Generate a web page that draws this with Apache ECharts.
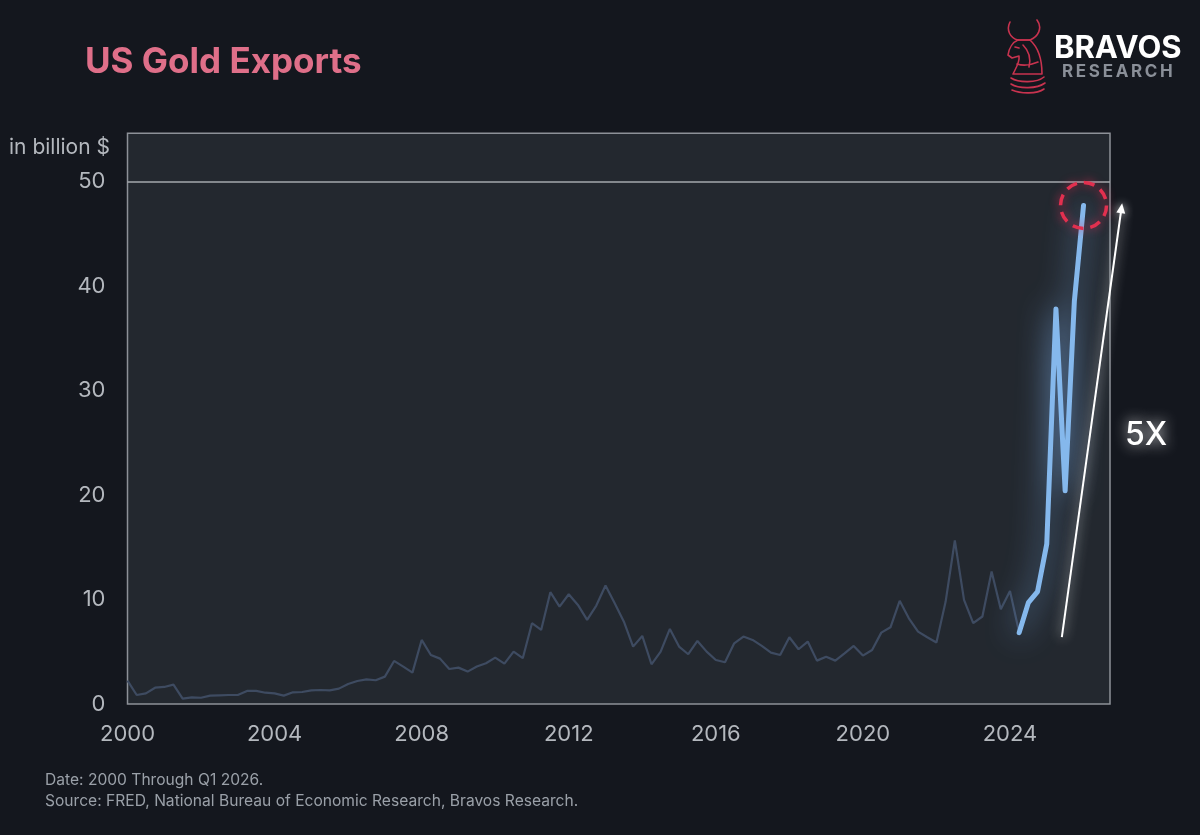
<!DOCTYPE html>
<html>
<head>
<meta charset="utf-8">
<script src="https://cdn.jsdelivr.net/npm/echarts@6/dist/echarts.min.js"></script>
<style>
html,body{margin:0;padding:0;background:#14171e;}
#c{width:1200px;height:835px;}
</style>
</head>
<body>
<div id="c"></div>
<script>
// ---------- DATA ----------
const startYear = 2000;
const quarterCount = 105; // 2000 Q1 .. 2026 Q1
const quarters = [];
for (let i = 0; i < quarterCount; i++) quarters.push((startYear + Math.floor(i / 4)) + ' Q' + (i % 4 + 1));

// US gold exports, billion $ (quarterly), 2000 Q1 .. 2024 Q2
const exportsHistory = [
  2.23, 0.86, 1.02, 1.56,
  1.63, 1.85, 0.51, 0.64,
  0.60, 0.80, 0.83, 0.86,
  0.86, 1.25, 1.25, 1.08,
  1.02, 0.80, 1.12, 1.15,
  1.31, 1.34, 1.31, 1.47,
  1.92, 2.20, 2.36, 2.27,
  2.62, 4.12, 3.58, 3.00,
  6.13, 4.69, 4.34, 3.35,
  3.48, 3.10, 3.58, 3.90,
  4.44, 3.87, 5.01, 4.38,
  7.73, 7.09, 10.70, 9.32,
  10.50, 9.48, 8.05, 9.42,
  11.33, 9.64, 7.88, 5.49,
  6.51, 3.80, 5.01, 7.18,
  5.49, 4.76, 6.03, 5.01,
  4.21, 3.99, 5.81, 6.45,
  6.13, 5.56, 4.92, 4.69,
  6.39, 5.24, 5.97, 4.15,
  4.53, 4.15, 4.85, 5.56,
  4.63, 5.17, 6.83, 7.34,
  9.87, 8.20, 6.93, 6.39,
  5.88, 9.80, 15.64, 9.96,
  7.73, 8.37, 12.67, 9.07,
  10.82, 6.83
];
// highlighted recent surge, 2024 Q2 .. 2026 Q1
const exportsRecent = [6.83, 9.70, 10.76, 15.30, 37.80, 20.40, 38.50, 47.70];
const recentStart = exportsHistory.length - 1;

const xTickLabels = ['2000', '2004', '2008', '2012', '2016', '2020', '2024'];
const yTickLabels = [0, 10, 20, 30, 40, 50];
const referenceLevel = 50;

// "5X" arrow annotation, in data units [year, billion $]
const arrowFrom = [2025.41, 6.4];
const arrowTo = [2027.05, 47.9];

// ---------- HELPERS ----------
function quarterToYear(q) {
  const parts = q.split(' Q');
  return Number(parts[0]) + (Number(parts[1]) - 1) / 4;
}
const histData = exportsHistory.map((v, i) => [quarterToYear(quarters[i]), v]);
const recentData = exportsRecent.map((v, i) => [quarterToYear(quarters[recentStart + i]), v]);
const lastPoint = recentData[recentData.length - 1];

const FONT = 'Inter, "Noto Sans", sans-serif';

const logoSvg =
  '<svg xmlns="http://www.w3.org/2000/svg" width="44" height="80" viewBox="0 0 44 80">' +
  '<g fill="none" stroke="#c8334f" stroke-width="1.6" stroke-linecap="round" stroke-linejoin="round">' +
  '<path d="M5,3 C1,11 5,19 13,21"/>' +
  '<path d="M32,1 C38,9 33,18 25,21"/>' +
  '<path d="M13,21 C8,23 4,29 3,36 L7,39 L14,37 C15,43 11,49 8,55 L37,55 C37,42 35,30 25,21 Z"/>' +
  '<path d="M13,21 L25,21 M10,28 L14,29 M18,26 C24,32 26,40 24,48 M12,45 C18,47 26,46 33,43"/>' +
  '<path d="M6,59 C14,64 32,64 39,58"/>' +
  '<path d="M6,65 C14,70 32,70 40,64"/>' +
  '<path d="M7,71 C16,75 32,75 39,70"/>' +
  '</g></svg>';
const logoUri = 'data:image/svg+xml;charset=utf-8,' + encodeURIComponent(logoSvg);

const chart = echarts.init(document.getElementById('c'), null, { renderer: 'canvas' });

const option = {
  backgroundColor: '#14171e',
  animation: false,
  grid: {
    left: 127.5, right: 90, top: 133.3, bottom: 131,
    show: true,
    borderColor: '#8d9198',
    borderWidth: 1.5,
    backgroundColor: '#23282f'
  },
  xAxis: {
    type: 'value',
    min: 2000, max: 2026.72, interval: 4,
    axisLine: { show: false },
    axisTick: { show: false },
    splitLine: { show: false },
    axisLabel: {
      color: '#b4b8be', fontSize: 22, fontFamily: FONT, margin: 19,
      showMaxLabel: false,
      formatter: v => xTickLabels.includes(String(v)) ? String(v) : ''
    }
  },
  yAxis: {
    type: 'value',
    min: 0, max: 54.6, interval: 10,
    axisLine: { show: false },
    axisTick: { show: false },
    splitLine: { show: false },
    axisLabel: {
      color: '#b4b8be', fontSize: 22, fontFamily: FONT, margin: 22,
      showMaxLabel: false,
      formatter: v => yTickLabels.includes(v) ? String(v) : ''
    }
  },
  series: [
    {
      type: 'line',
      data: histData,
      showSymbol: false,
      symbol: 'none',
      lineStyle: { color: '#3e4b61', width: 2.2 },
      z: 2,
      markLine: {
        silent: true,
        symbol: 'none',
        label: { show: false },
        lineStyle: { color: '#a4a8ae', width: 1.5, type: 'solid' },
        data: [{ yAxis: referenceLevel }]
      }
    },
    {
      type: 'line',
      data: recentData,
      showSymbol: false,
      symbol: 'none',
      z: 3,
      lineStyle: {
        color: '#85b8ec', width: 5, cap: 'round', join: 'round',
        shadowColor: 'rgba(130,180,240,0.95)', shadowBlur: 30
      },
      markPoint: {
        silent: true,
        symbol: 'circle',
        symbolSize: 46,
        label: { show: false },
        itemStyle: {
          color: 'rgba(0,0,0,0)',
          borderColor: '#e2304f',
          borderWidth: 3.5,
          borderType: [11, 7],
          shadowColor: 'rgba(230,40,80,0.9)',
          shadowBlur: 10
        },
        data: [{ coord: lastPoint }]
      }
    }
  ],
  graphic: [
    {
      id: 'title', type: 'text', x: 85, y: 62,
      style: { text: 'US Gold Exports', font: 'bold 35px ' + FONT, fill: '#df6f89', verticalAlign: 'middle' }
    },
    {
      id: 'unit', type: 'text', x: 110, y: 148,
      style: { text: 'in billion $', font: '21px ' + FONT, fill: '#b4b8be', align: 'right', verticalAlign: 'middle' }
    },
    {
      id: 'note1', type: 'text', x: 45, y: 780,
      style: { text: 'Date: 2000 Through Q1 2026.', font: '15.6px ' + FONT, fill: '#9aa0a8', verticalAlign: 'middle' }
    },
    {
      id: 'note2', type: 'text', x: 45, y: 801,
      style: { text: 'Source: FRED, National Bureau of Economic Research, Bravos Research.', font: '15.6px ' + FONT, fill: '#9aa0a8', verticalAlign: 'middle' }
    },
    {
      id: 'five', type: 'text', x: 1146, y: 435, z: 10,
      style: {
        text: '5X', font: '500 32px ' + FONT, fill: '#ffffff', align: 'center', verticalAlign: 'middle',
        textShadowColor: 'rgba(255,255,255,0.9)', textShadowBlur: 14
      }
    },
    {
      id: 'brand', type: 'text', x: 1054, y: 49,
      style: { text: 'BRAVOS', font: 'bold 31px ' + FONT, fill: '#ffffff', verticalAlign: 'middle' }
    },
    {
      id: 'brand2', type: 'text', x: 1062, y: 72,
      style: { text: 'R\u2009E\u2009S\u2009E\u2009A\u2009R\u2009C\u2009H', font: 'bold 17px ' + FONT, fill: '#8a8f98', verticalAlign: 'middle' }
    },
    {
      id: 'logo', type: 'image', x: 1005, y: 19, z: 5,
      style: { image: logoUri, width: 44, height: 80 }
    }
  ]
};
chart.setOption(option);

// arrow annotation mapped through the chart's own scales
const p0 = chart.convertToPixel({ gridIndex: 0 }, arrowFrom);
const p1 = chart.convertToPixel({ gridIndex: 0 }, arrowTo);
const dx = p1[0] - p0[0], dy = p1[1] - p0[1];
const len = Math.sqrt(dx * dx + dy * dy);
const ux = dx / len, uy = dy / len, px = -uy, py = ux;
const headLen = 10, headW = 4.5;
const base = [p1[0] - ux * headLen, p1[1] - uy * headLen];
chart.setOption({
  graphic: [
    {
      id: 'arrowLine', type: 'line', z: 9,
      shape: { x1: p0[0], y1: p0[1], x2: base[0] + ux * 2, y2: base[1] + uy * 2 },
      style: { stroke: '#ffffff', lineWidth: 2, shadowColor: 'rgba(255,255,255,0.9)', shadowBlur: 12 }
    },
    {
      id: 'arrowHead', type: 'polygon', z: 9,
      shape: { points: [p1, [base[0] + px * headW, base[1] + py * headW], [base[0] - px * headW, base[1] - py * headW]] },
      style: { fill: '#ffffff', shadowColor: 'rgba(255,255,255,0.9)', shadowBlur: 10 }
    }
  ]
});
</script>
</body>
</html>
